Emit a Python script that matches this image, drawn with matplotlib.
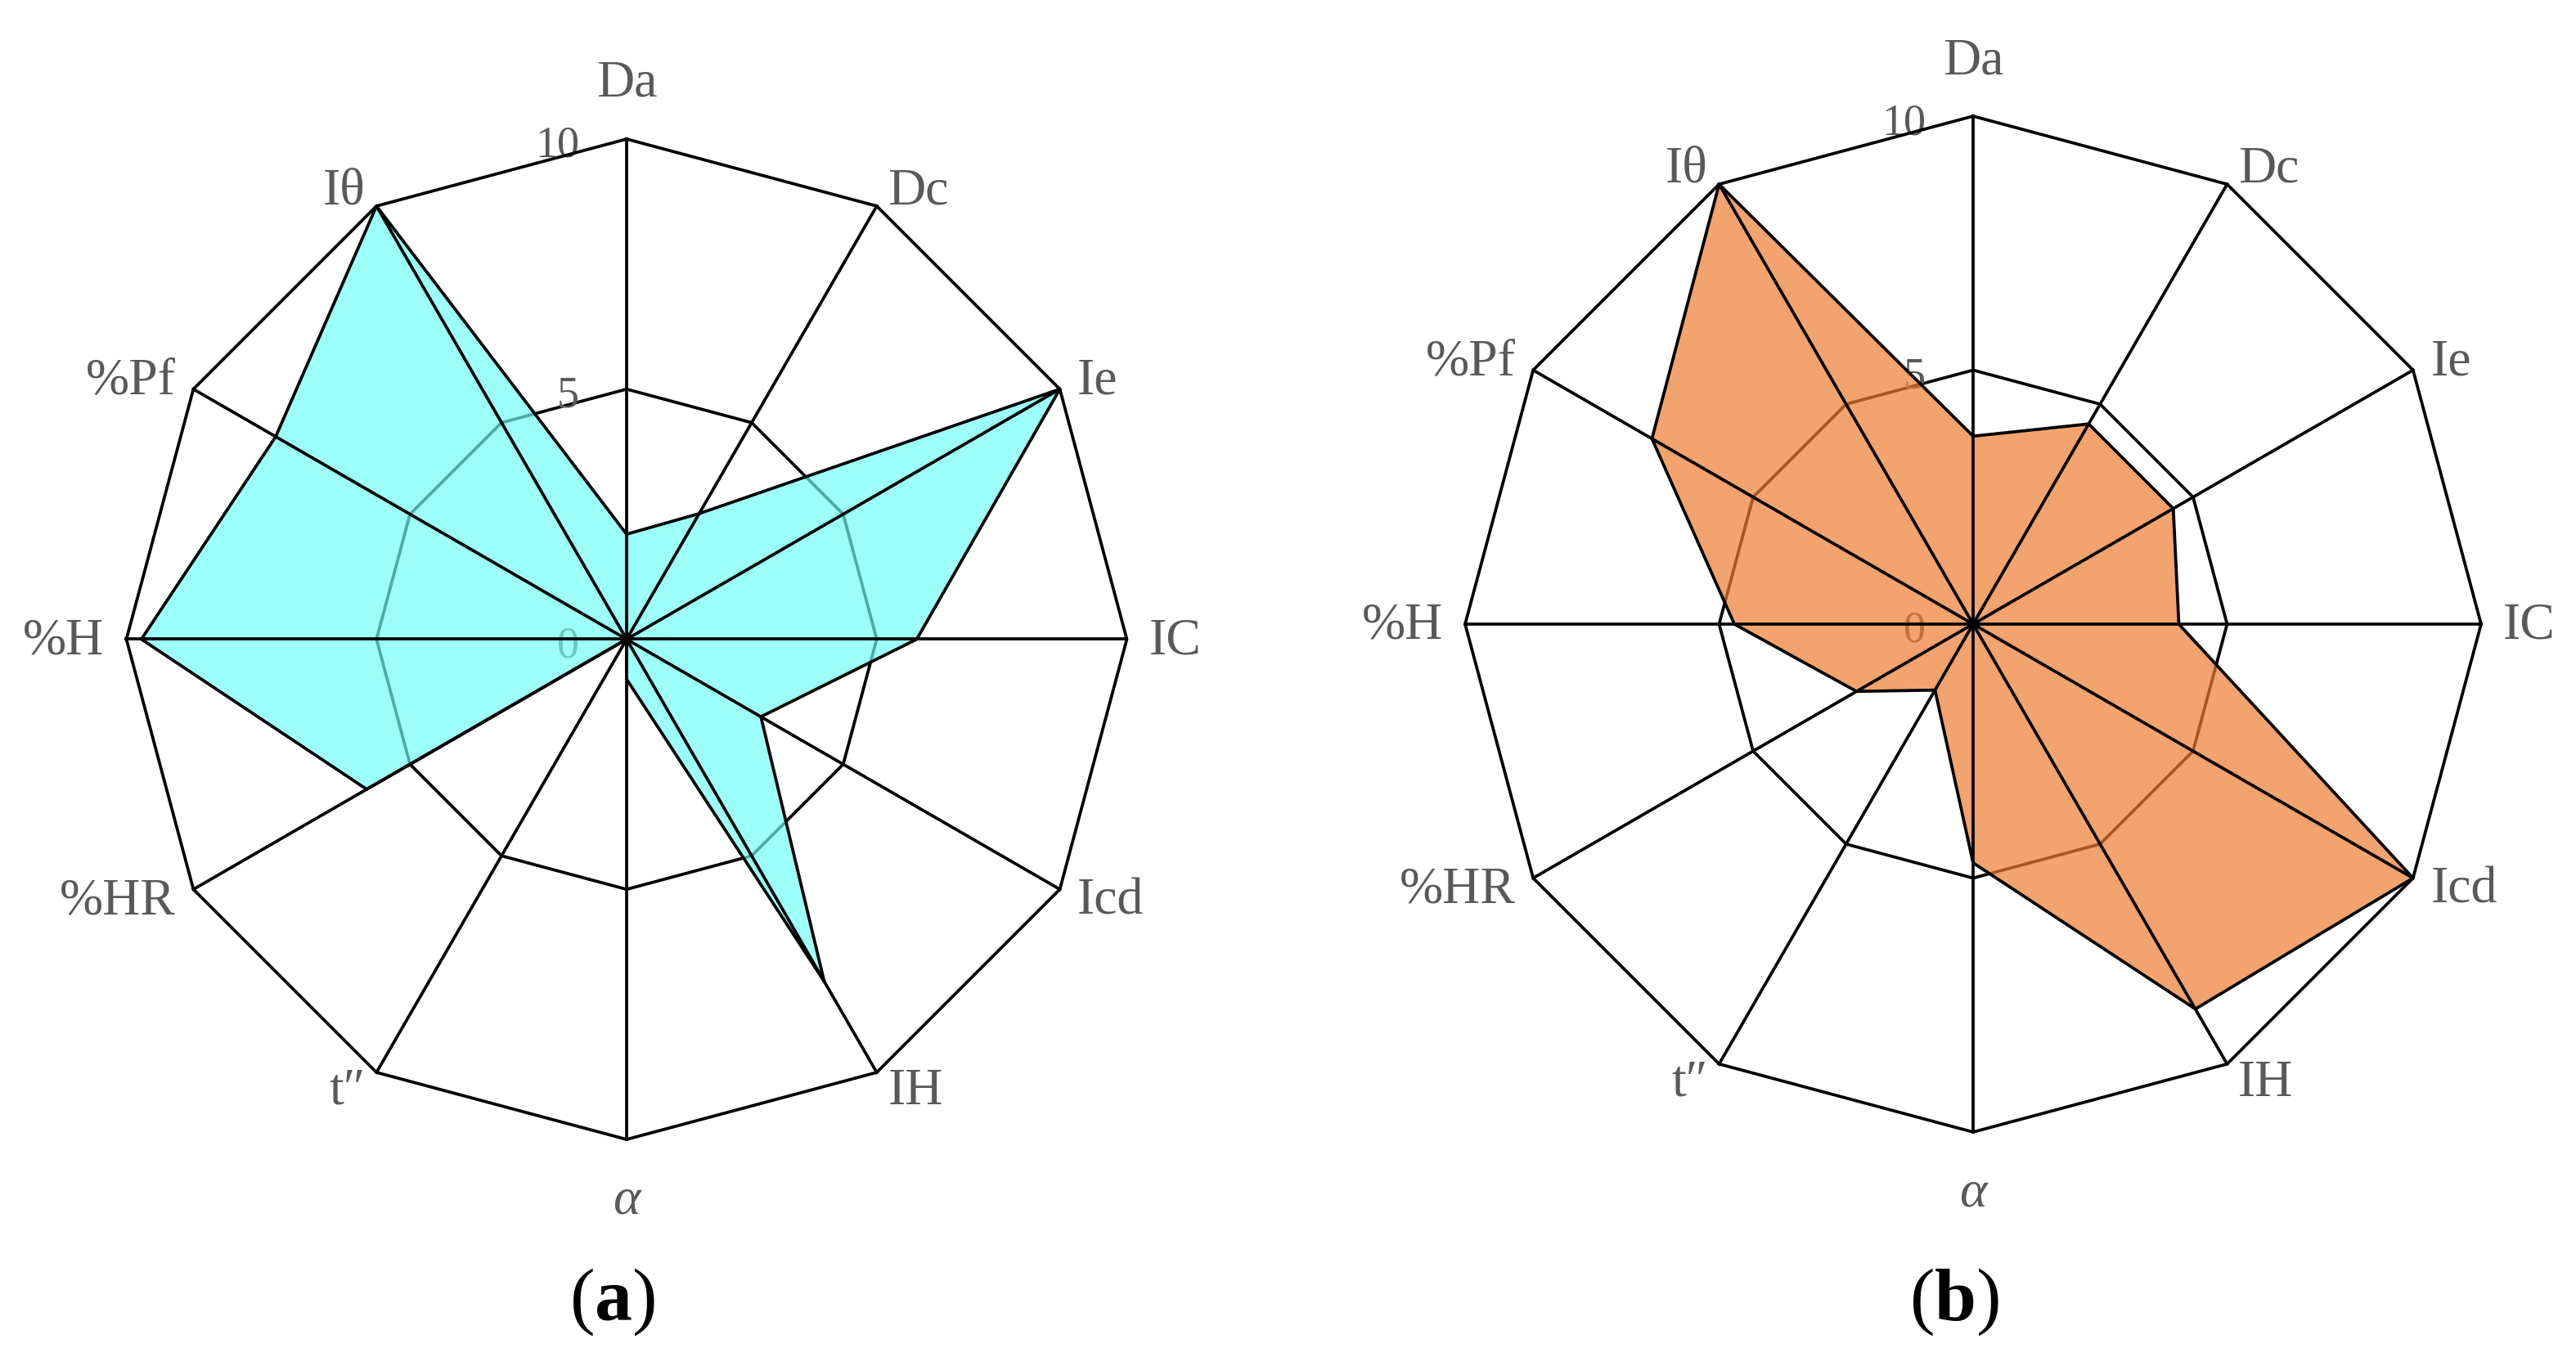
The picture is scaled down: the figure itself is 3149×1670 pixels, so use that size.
import numpy as np
import matplotlib
matplotlib.use('Agg')
import matplotlib.pyplot as plt

plt.rcParams['font.family'] = ['Liberation Serif', 'DejaVu Serif']
plt.rcParams['mathtext.fontset'] = 'custom'
plt.rcParams['mathtext.rm'] = 'Liberation Serif'
plt.rcParams['mathtext.bf'] = 'Liberation Serif:bold'

# categories, clockwise from the top
categories = ['Da', 'Dc', 'Ie', 'IC', 'Icd', 'IH', 'α', 't\u2033', '%HR', '%H', '%Pf', 'Iθ']
radial_ticks = [0, 5, 10]

# values
values_a = [2.1, 2.9, 10, 5.8, 3.1, 7.9, 0.8, 0, 6.0, 9.7, 8.1, 10]
values_b = [3.7, 4.55, 4.55, 4.05, 10, 8.75, 4.7, 1.5, 2.65, 4.7, 7.3, 10]
panel_labels = ['a', 'b']

DPI = 100
TEXT_GREY = '#595959'
LW = 2.7


def px(p):
    """pixels -> points"""
    return p * 72.0 / DPI


def draw_radar(ax, values, face, alpha):
    n = len(categories)
    theta = np.arange(n) * 2 * np.pi / n
    th_closed = np.append(theta, theta[0])

    ax.set_theta_zero_location('N')
    ax.set_theta_direction(-1)
    ax.set_ylim(0, 10)
    ax.set_axis_off()

    # inner grid ring (under the fill)
    ax.plot(th_closed, np.full(n + 1, 5.0), color='black', lw=LW, zorder=1, clip_on=False)

    # radial tick labels along the Da spoke
    for t in radial_ticks:
        ax.annotate(str(t), xy=(0, t), xytext=(px(-58), px(-22)), textcoords='offset points',
                    ha='right', va='baseline', fontsize=39, color=TEXT_GREY,
                    zorder=1, annotation_clip=False)

    # filled series
    v = np.append(values, values[0])
    ax.fill(th_closed, v, color=face, alpha=alpha, lw=0, zorder=2)

    # spokes and outer ring on top of the fill
    for th in theta:
        ax.plot([th, th], [0, 10], color='black', lw=LW, zorder=3, clip_on=False)
    ax.plot(th_closed, np.full(n + 1, 10.0), color='black', lw=LW, zorder=3,
            clip_on=False, solid_joinstyle='miter')

    ax.plot(th_closed, v, color='black', lw=LW, zorder=4, clip_on=False)

    # category labels
    for k, (th, name) in enumerate(zip(theta, categories)):
        phi = np.pi / 2 - th  # math angle
        c, s = np.cos(phi), np.sin(phi)
        if k == 0:
            dx, dy, ha = 0, 52, 'center'
        elif k == n // 2:
            dx, dy, ha = 0, -91, 'center'
        else:
            dx = c * (12 + 15 * abs(c)) + (4 * np.sign(c) if abs(c) < 0.6 else 0)
            dy = 24 * s - 18
            ha = 'left' if c > 0 else 'right'
        style = 'italic' if name == 'α' else 'normal'
        ax.annotate(name, xy=(th, 10), xytext=(px(dx), px(dy)), textcoords='offset points',
                    ha=ha, va='baseline', fontsize=46, color=TEXT_GREY, fontstyle=style,
                    annotation_clip=False)


fig = plt.figure(figsize=(31.49, 16.70), dpi=DPI)
ax_a = fig.add_axes([0.04906, 0.16587, 0.38838, 0.73234], projection='polar')
ax_b = fig.add_axes([0.56875, 0.17126, 0.39441, 0.74371], projection='polar')

draw_radar(ax_a, values_a, (110 / 255, 1.0, 245 / 255), 0.68)
draw_radar(ax_b, values_b, '#ED7D31', 0.7)

for x, lab in zip([748 / 3149, 2389 / 3149], panel_labels):
    fig.text(x, (1670 - 1614) / 1670, r'($\mathbf{%s}$)' % lab, ha='center', va='baseline',
             fontsize=66, color='black')

fig.savefig('out.png', dpi=DPI, facecolor='white')
